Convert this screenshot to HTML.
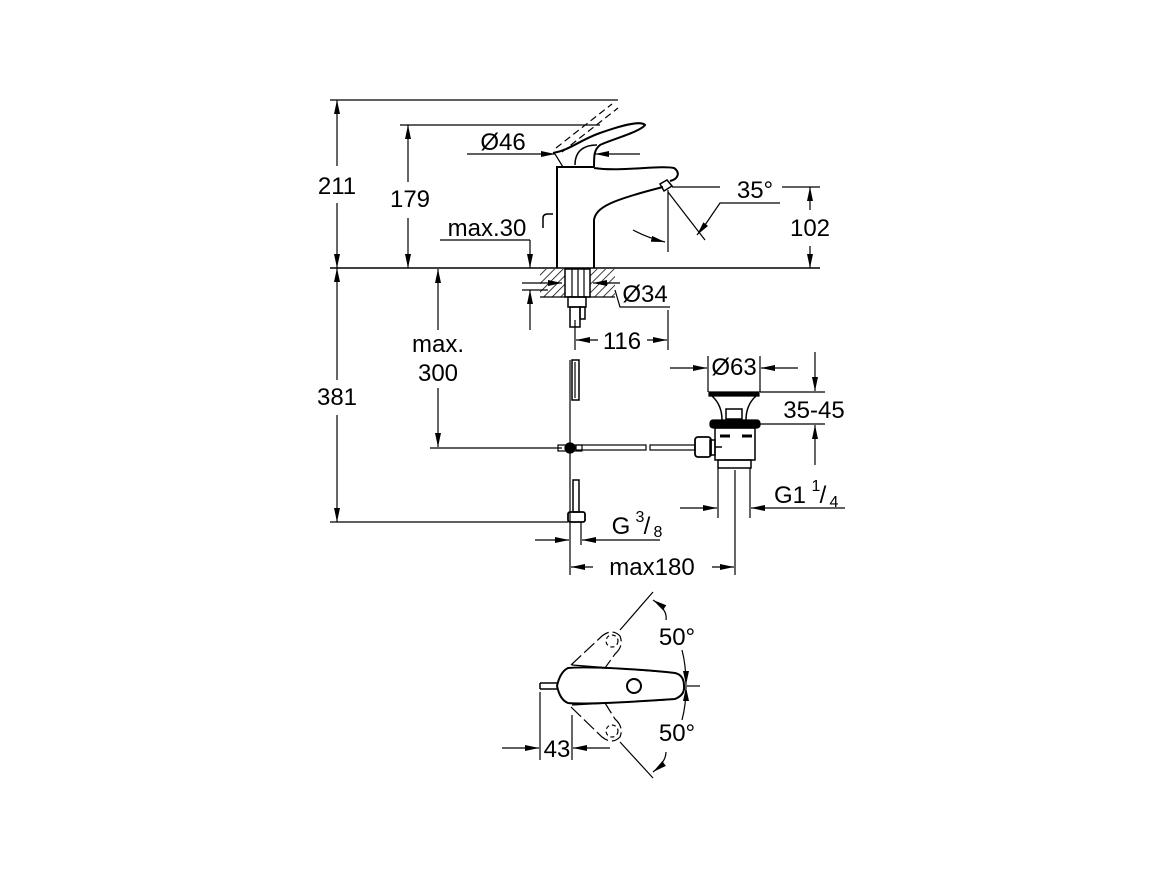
<!DOCTYPE html>
<html><head><meta charset="utf-8"><style>
html,body{margin:0;padding:0;background:#fff}
svg{display:block}
text{font-family:"Liberation Sans",sans-serif;font-size:24px;fill:#000;text-anchor:middle}
.s{font-size:16px}
</style></head><body>
<svg width="1162" height="871" viewBox="0 0 1162 871" xmlns="http://www.w3.org/2000/svg">
<defs>
<marker id="a" viewBox="0 0 14 6" refX="14" refY="3" markerWidth="14" markerHeight="6" orient="auto-start-reverse" markerUnits="userSpaceOnUse"><path d="M0,0 L14,3 L0,6 Z" fill="#000"/></marker>
<pattern id="h" width="6" height="6" patternUnits="userSpaceOnUse" patternTransform="rotate(45)"><line x1="0" y1="0" x2="0" y2="6" stroke="#000" stroke-width="1.5"/></pattern>
</defs>
<g stroke="#000" stroke-width="1.2" fill="none">
<line x1="330" y1="100" x2="618" y2="100"/>
<line x1="400" y1="125" x2="600" y2="125"/>
<line x1="337" y1="100" x2="337" y2="166" marker-start="url(#a)"/>
<line x1="337" y1="203" x2="337" y2="268" marker-end="url(#a)"/>
<line x1="408" y1="125" x2="408" y2="182" marker-start="url(#a)"/>
<line x1="408" y1="218" x2="408" y2="268" marker-end="url(#a)"/>
<line x1="330" y1="268" x2="820" y2="268" stroke-width="1.5"/>
<!-- faucet body -->
<path d="M557,268 V167 H594" stroke-width="2"/>
<path d="M594,268 V220 C596,207 612,200 663,187" stroke-width="2"/>
<path d="M594,168 C620,172 660,165 674,168 C680,172 679,179 670,181" stroke-width="2"/>
<path d="M660,184 L667,180 L672,186 L664,191 Z" stroke-width="1.5"/>
<!-- lever -->
<path d="M553,153 C570,150 580,140 600,133 C620,126 640,120 645,125 C640,132 610,140 600,145 C594,150 594,155 594,167" stroke-width="2"/>
<path d="M575,165 C575,150 585,145 597,145" stroke-width="1.5"/>
<path d="M555,154 L563,167" stroke-width="1.2"/>
<path d="M556,148 L612,104 M562,152 L618,108" stroke-dasharray="7,4"/>
<path d="M543,228 V218 Q543,214 548,214 H553" stroke-width="1.5"/>
<!-- Ø46 -->
<line x1="467" y1="154" x2="555" y2="154" marker-end="url(#a)"/>
<line x1="640" y1="154" x2="595" y2="154" marker-end="url(#a)"/>
<!-- 35° -->
<line x1="668" y1="190" x2="668" y2="252"/>
<line x1="672" y1="187" x2="720" y2="187"/>
<line x1="782" y1="187" x2="820" y2="187"/>
<line x1="668" y1="192" x2="705" y2="240"/>
<polyline points="780,203 720,203 705,225"/>
<path d="M705,225 l-8,10" marker-end="url(#a)"/>
<path d="M633,230 Q648,238 665,242" marker-end="url(#a)"/>
<!-- 102 -->
<line x1="810" y1="187" x2="810" y2="210" marker-start="url(#a)"/>
<line x1="810" y1="246" x2="810" y2="268" marker-end="url(#a)"/>
<!-- max.30 -->
<line x1="440" y1="240" x2="530" y2="240"/>
<line x1="530" y1="240" x2="530" y2="268" marker-end="url(#a)"/>
<line x1="530" y1="330" x2="530" y2="290" marker-end="url(#a)"/>
<line x1="522" y1="290" x2="548" y2="290"/>
<!-- counter -->
<rect x="540" y="269" width="25" height="28" fill="url(#h)" stroke="none"/>
<rect x="590" y="269" width="25" height="28" fill="url(#h)" stroke="none"/>
<line x1="540" y1="297" x2="615" y2="297"/>
<rect x="565" y="269" width="25" height="28" stroke-width="1.5"/>
<line x1="572" y1="269" x2="572" y2="297"/><line x1="578" y1="269" x2="578" y2="297"/><line x1="584" y1="269" x2="584" y2="297"/>
<rect x="568" y="297" width="18" height="10" stroke-width="1.5"/>
<rect x="570" y="307" width="10" height="20" stroke-width="1.5"/>
<rect x="580" y="307" width="5" height="12" stroke-width="1.5"/>
<!-- Ø34 -->
<line x1="522" y1="283" x2="562" y2="283" marker-end="url(#a)"/>
<line x1="620" y1="283" x2="593" y2="283" marker-end="url(#a)"/>
<polyline points="615,290 620,307 670,307"/>
<!-- 116 -->
<line x1="575" y1="320" x2="575" y2="350"/>
<line x1="668" y1="310" x2="668" y2="350"/>
<line x1="598" y1="340" x2="576" y2="340" marker-end="url(#a)"/>
<line x1="647" y1="340" x2="667" y2="340" marker-end="url(#a)"/>
<!-- max 300 -->
<line x1="438" y1="330" x2="438" y2="269" marker-end="url(#a)"/>
<line x1="438" y1="388" x2="438" y2="447" marker-end="url(#a)"/>
<line x1="430" y1="448" x2="562" y2="448"/>
<!-- 381 -->
<line x1="337" y1="268" x2="337" y2="380" marker-start="url(#a)"/>
<line x1="337" y1="415" x2="337" y2="522" marker-end="url(#a)"/>
<line x1="330" y1="522" x2="568" y2="522"/>
<!-- hoses -->
<line x1="570" y1="360" x2="570" y2="545"/>
<rect x="572" y="360" width="7" height="40" stroke-width="1.5"/>
<line x1="575" y1="362" x2="575" y2="398"/>
<circle cx="570" cy="448" r="5" fill="#000"/>
<rect x="558" y="445" width="24" height="6"/>
<rect x="576" y="445" width="70" height="5"/>
<rect x="650" y="445" width="45" height="5"/>
<rect x="695" y="437" width="16" height="20" rx="3" stroke-width="1.8"/>
<rect x="573" y="480" width="6" height="32" stroke-width="1.5"/>
<rect x="568" y="512" width="17" height="10" rx="2" stroke-width="1.8"/>
<line x1="581" y1="522" x2="581" y2="545"/>
<line x1="535" y1="540" x2="569" y2="540" marker-end="url(#a)"/>
<line x1="660" y1="540" x2="582" y2="540" marker-end="url(#a)"/>
<!-- max180 -->
<line x1="570" y1="545" x2="570" y2="575"/>
<line x1="593" y1="567" x2="571" y2="567" marker-end="url(#a)"/>
<line x1="712" y1="567" x2="734" y2="567" marker-end="url(#a)"/>
<line x1="735" y1="470" x2="735" y2="575"/>
<!-- drain -->
<line x1="670" y1="368" x2="707" y2="368" marker-end="url(#a)"/>
<line x1="798" y1="368" x2="761" y2="368" marker-end="url(#a)"/>
<line x1="708" y1="356" x2="708" y2="392"/>
<line x1="760" y1="356" x2="760" y2="392"/>
<path d="M709,392 H759 V396 H709 Z" fill="#000"/>
<path d="M712,396 Q722,405 722,420 M756,396 Q746,405 746,420" stroke-width="1.5"/>
<rect x="726" y="409" width="16" height="10" stroke-width="1.5"/>
<rect x="710" y="420" width="50" height="8" rx="3" fill="#000"/>
<rect x="715" y="428" width="40" height="32" stroke-width="1.5"/>
<line x1="720" y1="436" x2="730" y2="436" stroke-width="3"/><line x1="742" y1="436" x2="752" y2="436" stroke-width="3"/>
<path d="M710,440 H715 V455 H710 Z M715,447 H722" stroke-width="1.5"/>
<rect x="718" y="460" width="33" height="8" stroke-width="1.5"/>
<line x1="718" y1="468" x2="718" y2="518"/><line x1="750" y1="468" x2="750" y2="518"/>
<line x1="760" y1="392" x2="825" y2="392"/>
<line x1="760" y1="424" x2="825" y2="424"/>
<line x1="815" y1="352" x2="815" y2="391" marker-end="url(#a)"/>
<line x1="815" y1="465" x2="815" y2="425" marker-end="url(#a)"/>
<line x1="680" y1="508" x2="717" y2="508" marker-end="url(#a)"/>
<line x1="845" y1="508" x2="751" y2="508" marker-end="url(#a)"/>
<!-- bottom view -->
<path d="M568,668 Q560,672 557,686 Q560,700 568,703 C590,705 660,700 675,699 Q685,695 684,686 Q684,675 675,673 C650,670 590,666 568,668 Z" stroke-width="2"/>
<path d="M572,665 L665,672 M572,705 L665,700" stroke-width="1.2"/>
<circle cx="634" cy="686" r="7" stroke-width="2"/>
<path d="M540,683 H557 M540,689 H557 M540,683 V689" stroke-width="1.5"/>
<path d="M571,665 L602,636 Q612,628 620,636 Q624,646 615,654 L605,668" stroke-dasharray="14,4"/>
<circle cx="612" cy="641" r="6" stroke-dasharray="4,3"/>
<path d="M571,707 L602,737 Q612,745 620,737 Q624,727 615,719 L605,703" stroke-dasharray="14,4"/>
<circle cx="612" cy="731" r="6" stroke-dasharray="4,3"/>
<line x1="620" y1="630" x2="653" y2="592"/>
<line x1="620" y1="742" x2="653" y2="778"/>
<line x1="684" y1="686" x2="700" y2="686"/>
<path d="M653,600 Q668,610 666,620" marker-start="url(#a)"/>
<path d="M682,650 Q686,665 686,685" marker-end="url(#a)"/>
<path d="M686,687 Q686,705 682,720" marker-start="url(#a)"/>
<path d="M666,752 Q666,762 653,772" marker-end="url(#a)"/>
<line x1="540" y1="692" x2="540" y2="760"/>
<line x1="572" y1="715" x2="572" y2="760"/>
<line x1="502" y1="748" x2="539" y2="748" marker-end="url(#a)"/>
<line x1="610" y1="748" x2="573" y2="748" marker-end="url(#a)"/>
</g>
<g>
<rect x="314" y="170" width="46" height="30" fill="#fff"/>
<text x="337" y="194">211</text>
<text x="410" y="207">179</text>
<text x="503" y="150">Ø46</text>
<text x="755" y="198">35°</text>
<text x="810" y="236">102</text>
<text x="487" y="236">max.30</text>
<text x="645" y="302">Ø34</text>
<text x="622" y="349">116</text>
<text x="438" y="352">max.</text>
<text x="438" y="381">300</text>
<rect x="314" y="382" width="46" height="30" fill="#fff"/>
<text x="337" y="405">381</text>
<text x="734" y="375">Ø63</text>
<text x="814" y="418">35-45</text>
<text x="790" y="503">G1</text><text x="816" y="491" class="s">1</text><text x="823" y="503">/</text><text x="834" y="507" class="s">4</text>
<text x="621" y="534">G</text><text x="640" y="522" class="s">3</text><text x="647" y="534">/</text><text x="658" y="537" class="s">8</text>
<text x="652" y="575">max180</text>
<text x="677" y="645">50°</text>
<text x="677" y="741">50°</text>
<text x="557" y="757">43</text>
</g>
</svg>
</body></html>
